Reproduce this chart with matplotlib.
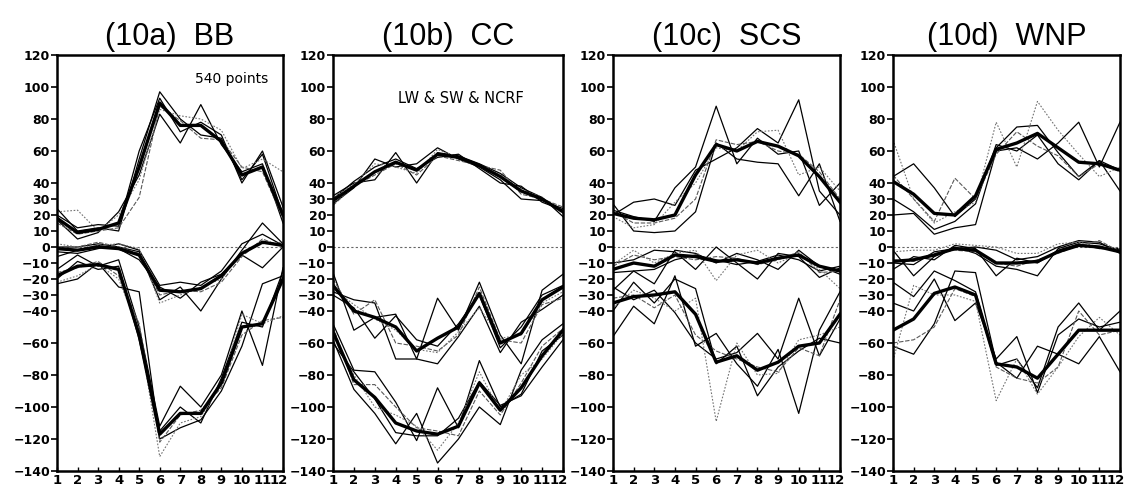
import matplotlib.pyplot as plt
from matplotlib.transforms import ScaledTranslation

months = list(range(1, 13))
yticks = [-140, -120, -100, -80, -60, -40, -30, -20, -10, 0, 10, 20, 30, 40, 60, 80, 100, 120]
titles = ['(10a)  BB', '(10b)  CC', '(10c)  SCS', '(10d)  WNP']

# each group: first row = thick mean line, last rows = grey dashed lines
bb_lw = [
    [18, 9, 11, 15, 50, 90, 76, 76, 66, 45, 50, 20],
    [24, 10, 12, 10, 55, 97, 80, 70, 68, 42, 58, 20],
    [17, 5, 9, 22, 45, 83, 65, 89, 64, 47, 52, 15],
    [20, 12, 14, 13, 60, 93, 72, 78, 70, 40, 60, 25],
    [15, 8, 10, 12, 31, 88, 79, 68, 67, 50, 47, 18],
    [22, 23, 10, 20, 42, 86, 82, 80, 73, 49, 55, 47],
]
bb_ncrf = [
    [-1, -2, 0, -1, -5, -27, -28, -26, -18, -4, 3, 1],
    [0, 0, 2, 0, -3, -33, -25, -40, -20, -2, 15, 2],
    [-6, -2, 1, -1, -8, -25, -32, -22, -17, -5, -13, 0],
    [-3, -4, -1, 2, -2, -24, -22, -24, -15, 2, 8, 1],
    [-1, 0, 3, 0, -4, -30, -27, -28, -22, -6, 5, 0],
    [2, 0, 1, 2, -1, -35, -30, -25, -20, -3, 2, 3],
]
bb_sw = [
    [-18, -12, -11, -14, -55, -117, -104, -104, -85, -50, -48, -20],
    [-14, -5, -12, -8, -50, -112, -87, -100, -80, -40, -74, -13],
    [-23, -20, -10, -25, -28, -120, -113, -108, -90, -62, -23, -18],
    [-20, -9, -14, -12, -58, -115, -100, -110, -82, -47, -50, -15],
    [-16, -13, -9, -18, -48, -122, -105, -102, -88, -55, -46, -44],
    [-22, -18, -11, -20, -52, -131, -110, -106, -86, -42, -48, -43],
]

cc_lw = [
    [29, 38, 47, 53, 48, 58, 56, 51, 44, 35, 30, 22],
    [32, 40, 42, 59, 40, 59, 57, 52, 46, 37, 31, 19],
    [27, 37, 55, 50, 52, 62, 55, 50, 42, 30, 29, 24],
    [30, 41, 50, 55, 49, 56, 58, 49, 40, 38, 28, 23],
    [26, 38, 45, 52, 45, 57, 54, 51, 48, 33, 30, 25],
    [31, 39, 52, 50, 46, 61, 56, 51, 45, 36, 31, 21],
]
cc_ncrf = [
    [-24, -40, -44, -50, -65, -57, -50, -29, -60, -54, -33, -25],
    [-16, -52, -44, -42, -70, -32, -52, -22, -55, -73, -27, -17],
    [-28, -33, -35, -70, -70, -73, -56, -37, -66, -47, -39, -30],
    [-30, -38, -57, -43, -58, -62, -48, -30, -63, -50, -30, -24],
    [-20, -42, -33, -60, -62, -65, -55, -25, -58, -60, -36, -32],
    [-26, -36, -45, -52, -64, -66, -53, -38, -57, -55, -35, -28],
]
cc_sw = [
    [-53, -83, -94, -110, -115, -117, -112, -85, -102, -88, -68, -52],
    [-48, -77, -78, -97, -121, -88, -113, -71, -100, -92, -65, -55],
    [-58, -89, -104, -123, -104, -135, -120, -100, -111, -77, -58, -48],
    [-60, -78, -95, -116, -118, -118, -107, -84, -99, -93, -75, -58],
    [-50, -86, -86, -100, -113, -115, -118, -90, -105, -85, -62, -51],
    [-55, -80, -100, -105, -112, -127, -110, -78, -103, -80, -70, -54],
]

scs_lw = [
    [21, 18, 17, 20, 45, 64, 60, 66, 63, 57, 44, 28],
    [27, 10, 9, 10, 22, 65, 55, 53, 52, 32, 52, 16],
    [20, 28, 30, 26, 48, 55, 62, 74, 65, 92, 35, 20],
    [23, 19, 16, 37, 50, 88, 52, 68, 58, 60, 26, 40],
    [22, 15, 15, 18, 30, 67, 64, 66, 60, 58, 47, 30],
    [19, 12, 14, 28, 40, 62, 60, 72, 73, 45, 50, 35],
]
scs_ncrf = [
    [-14, -10, -12, -5, -6, -9, -8, -10, -7, -5, -12, -15],
    [-10, -8, -2, -3, -14, 0, -10, -20, -4, -6, -19, -13],
    [-16, -15, -23, -2, -4, -10, -4, -8, -14, -2, -12, -17],
    [-27, -15, -14, -8, -5, -8, -11, -9, -5, -8, -15, -12],
    [-12, -5, -8, -6, -8, -6, -7, -11, -8, -3, -16, -15],
    [-11, -2, -10, -4, -2, -21, -5, -2, -10, -4, -14, -26],
]
scs_sw = [
    [-35, -31, -30, -28, -42, -72, -68, -77, -72, -62, -60, -42],
    [-56, -37, -48, -18, -62, -54, -73, -87, -64, -104, -52, -28],
    [-25, -33, -27, -41, -60, -70, -66, -54, -70, -32, -68, -45],
    [-40, -22, -35, -20, -26, -73, -62, -93, -75, -65, -57, -60],
    [-32, -30, -38, -30, -55, -65, -70, -75, -78, -63, -68, -33],
    [-38, -27, -32, -40, -32, -109, -60, -80, -79, -58, -55, -50],
]

wnp_lw = [
    [41, 33, 21, 20, 32, 61, 65, 71, 62, 53, 52, 48],
    [44, 52, 37, 19, 30, 62, 75, 76, 59, 44, 54, 35],
    [20, 21, 8, 12, 14, 60, 62, 55, 65, 78, 50, 78],
    [30, 22, 11, 16, 27, 64, 60, 70, 52, 42, 54, 48],
    [45, 30, 16, 43, 30, 58, 72, 63, 57, 44, 52, 47],
    [67, 30, 15, 22, 28, 78, 50, 91, 73, 58, 44, 50],
]
wnp_ncrf = [
    [-9, -8, -5, -1, -2, -10, -10, -9, -3, 1, 0, -3],
    [-2, -18, -6, 0, -4, -12, -14, -18, -1, 3, 2, -2],
    [-10, -11, -3, -1, 0, -2, -8, -6, 0, 4, 3, -4],
    [-14, -6, -8, 1, -1, -18, -7, -10, -2, 2, -1, -1],
    [-8, -9, -4, -2, -3, -10, -12, -8, -4, 1, 4, -3],
    [-3, -2, -2, 2, 1, 0, -4, -4, 2, 3, 0, -1],
]
wnp_sw = [
    [-52, -45, -29, -25, -30, -73, -75, -82, -67, -52, -52, -52],
    [-62, -67, -48, -15, -16, -72, -82, -62, -67, -73, -56, -78],
    [-22, -31, -15, -21, -28, -74, -70, -88, -50, -35, -52, -40],
    [-35, -40, -20, -46, -35, -70, -56, -91, -55, -45, -50, -47],
    [-60, -58, -50, -26, -31, -75, -82, -85, -75, -40, -55, -52],
    [-71, -24, -30, -30, -34, -96, -70, -92, -75, -56, -44, -55],
]

panels = [
    (bb_lw, bb_ncrf, bb_sw),
    (cc_lw, cc_ncrf, cc_sw),
    (scs_lw, scs_ncrf, scs_sw),
    (wnp_lw, wnp_ncrf, wnp_sw),
]

styles = [
    dict(color='black', lw=2.4),
    dict(color='black', lw=0.9),
    dict(color='black', lw=0.9),
    dict(color='black', lw=0.9),
    dict(color='0.35', lw=0.8, ls=(0, (4, 1.5))),
    dict(color='0.45', lw=0.8, ls=(0, (1.5, 1.5))),
]

lefts = [57, 333, 613, 893]
widths = [226, 230, 227, 227]

fig = plt.figure(figsize=(11.32, 4.9), dpi=100)
shift = ScaledTranslation(-4 / 100, 0, fig.dpi_scale_trans)

for i, groups in enumerate(panels):
    ax = fig.add_axes([lefts[i] / 1132, 19 / 490, widths[i] / 1132, 416 / 490])
    ax.axhline(0, color='0.4', lw=0.8, ls=(0, (2, 2)), zorder=1)
    for group in groups:
        for k, s in enumerate(group):
            ax.plot(months, s, zorder=3 if k == 0 else 2, **styles[k])

    ax.set_xlim(1, 12)
    ax.set_ylim(-140, 120)
    ax.set_xticks(months)
    ax.set_yticks(yticks)
    ax.tick_params(axis='y', direction='out', length=4, width=1.2, labelsize=9, pad=1)
    ax.tick_params(axis='x', direction='in', length=3, width=1.0, labelsize=9.5, pad=2)
    for lab in ax.get_xticklabels() + ax.get_yticklabels():
        lab.set_fontweight('bold')
    last = ax.get_xticklabels()[-1]
    last.set_transform(last.get_transform() + shift)
    for sp in ax.spines.values():
        sp.set_linewidth(1.8)
    ax.set_title(titles[i], fontsize=22, family='Liberation Sans', pad=7)

fig.axes[0].text(11.3, 105, '540 points', ha='right', va='center', fontsize=10)
fig.axes[1].text(7.1, 93, 'LW & SW & NCRF', ha='center', va='center', fontsize=10.5)

fig.savefig('out.png', dpi=100)
